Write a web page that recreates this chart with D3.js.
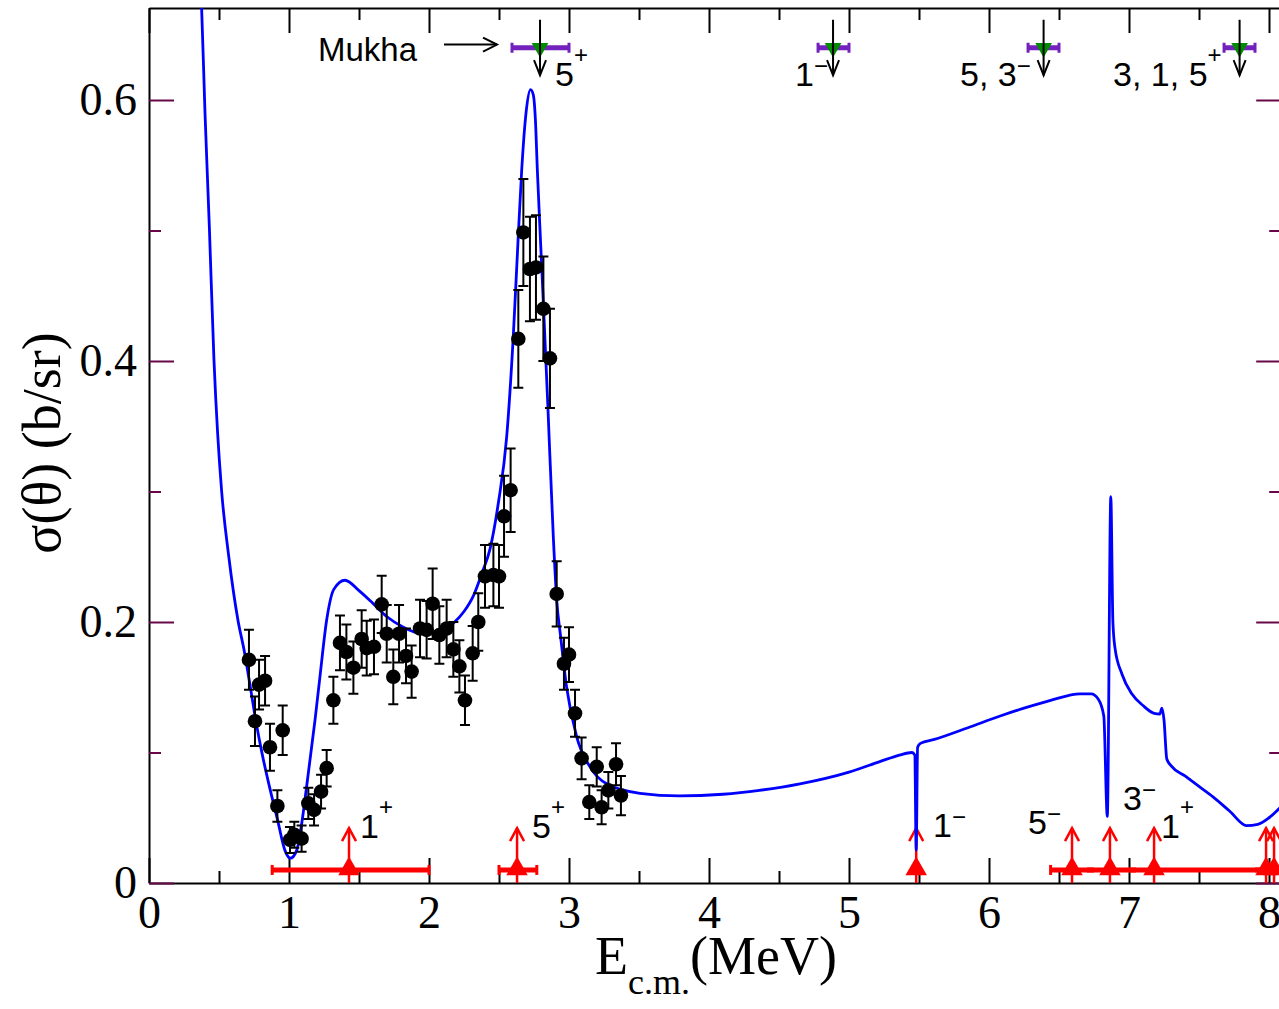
<!DOCTYPE html>
<html>
<head>
<meta charset="utf-8">
<script src="https://cdn.jsdelivr.net/npm/d3@7"></script>
<style>
  body { margin: 0; background: #fff; }
  .tick text { font-family: "Liberation Serif", "Times New Roman", serif; }
</style>
</head>
<body>
<div id="chart"></div>
<script>
// measured points (E c.m. in MeV, cross section in b/sr, error)
const expE = [0.714, 0.757, 0.786, 0.829, 0.864, 0.917, 0.955, 1.007, 1.038, 1.09,
  1.138, 1.179, 1.229, 1.269, 1.317, 1.364, 1.41, 1.46, 1.519, 1.555,
  1.607, 1.662, 1.698, 1.745, 1.786, 1.836, 1.876, 1.936, 1.983, 2.026,
  2.074, 2.126, 2.174, 2.217, 2.257, 2.312, 2.352, 2.40, 2.46, 2.50,
  2.536, 2.583, 2.638, 2.674, 2.721, 2.764, 2.817, 2.864, 2.912, 2.964,
  3.0, 3.043, 3.09, 3.145, 3.198, 3.233, 3.281, 3.336, 3.371];
const expS = [0.171, 0.124, 0.152, 0.155, 0.104, 0.059, 0.117, 0.033, 0.037, 0.034,
  0.061, 0.056, 0.070, 0.088, 0.140, 0.184, 0.177, 0.165, 0.187, 0.180,
  0.181, 0.2135, 0.191, 0.158, 0.191, 0.174, 0.162, 0.195, 0.194, 0.214,
  0.190, 0.195, 0.179, 0.166, 0.140, 0.176, 0.200, 0.235, 0.236, 0.235,
  0.281, 0.301, 0.417, 0.4985, 0.4705, 0.4717, 0.440, 0.402, 0.2215, 0.168,
  0.175, 0.130, 0.0955, 0.062, 0.089, 0.058, 0.071, 0.091, 0.067];
const expErr = [0.023, 0.019, 0.019, 0.019, 0.018, 0.012, 0.019, 0.010, 0.010, 0.010,
  0.012, 0.012, 0.013, 0.014, 0.018, 0.021, 0.021, 0.020, 0.022, 0.021,
  0.021, 0.022, 0.022, 0.021, 0.022, 0.021, 0.020, 0.022, 0.022, 0.027,
  0.022, 0.022, 0.021, 0.020, 0.019, 0.021, 0.022, 0.024, 0.024, 0.024,
  0.031, 0.032, 0.0375, 0.041, 0.040, 0.040, 0.040, 0.038, 0.025, 0.020,
  0.021, 0.018, 0.016, 0.013, 0.015, 0.013, 0.014, 0.016, 0.015];

// calculated curve
const fitE = [0.35, 0.376, 0.40, 0.431, 0.464, 0.49, 0.519, 0.57, 0.636, 0.68,
  0.721, 0.762, 0.81, 0.86, 0.919, 0.971, 1.01, 1.055, 1.09, 1.126,
  1.186, 1.221, 1.269, 1.32, 1.40, 1.50, 1.602, 1.70, 1.817, 1.91,
  2.007, 2.10, 2.174, 2.25, 2.317, 2.38, 2.436, 2.495, 2.555, 2.602,
  2.635, 2.662, 2.695, 2.725, 2.745, 2.76, 2.774, 2.80, 2.817, 2.848,
  2.888, 2.912, 2.94, 2.983, 3.055, 3.15, 3.269, 3.507, 3.79, 4.10,
  4.36, 4.65, 5.0, 5.22, 5.36, 5.45, 5.47, 5.48, 5.49, 5.51,
  5.61, 5.85, 6.08, 6.25, 6.44, 6.65, 6.73, 6.78, 6.82, 6.845,
  6.87, 6.885, 6.90, 6.95, 7.02, 7.10, 7.18, 7.22, 7.235, 7.25,
  7.27, 7.30, 7.40, 7.50, 7.60, 7.72, 7.84, 7.92, 8.0, 8.10];
const fitS = [0.72, 0.670, 0.590, 0.503, 0.401, 0.345, 0.300, 0.250, 0.201, 0.178,
  0.152, 0.125, 0.098, 0.074, 0.048, 0.025, 0.019, 0.025, 0.045, 0.074,
  0.125, 0.158, 0.2015, 0.225, 0.232, 0.224, 0.214, 0.204, 0.196, 0.192,
  0.191, 0.193, 0.199, 0.208, 0.220, 0.238, 0.256, 0.291, 0.342, 0.419,
  0.49, 0.546, 0.592, 0.608, 0.604, 0.585, 0.546, 0.484, 0.444, 0.368,
  0.265, 0.217, 0.189, 0.150, 0.112, 0.089, 0.076, 0.0687, 0.0667, 0.068,
  0.071, 0.076, 0.085, 0.093, 0.098, 0.100, 0.098, 0.025, 0.104, 0.107,
  0.110, 0.119, 0.128, 0.134, 0.140, 0.145, 0.145, 0.141, 0.128, 0.051,
  0.296, 0.20, 0.18, 0.160, 0.145, 0.136, 0.130, 0.1295, 0.134, 0.125,
  0.095, 0.090, 0.082, 0.074, 0.066, 0.055, 0.044, 0.045, 0.050, 0.060];

// Mukha levels (top)
const mukhaE = [2.793, 4.886, 6.39, 7.79];
const mukhaLo = [2.593, 4.779, 6.279, 7.679];
const mukhaHi = [3.0, 5.0, 6.5, 7.9];
const mukhaS = 0.640;
const mukhaLabelE = [2.9, 4.614, 5.793, 6.886];
const mukhaLabel = ["5", "1", "5, 3", "3, 1, 5"];
const mukhaSup = ["+", "\u2212", "\u2212", "+"];

// levels (bottom, red)
const levelE = [1.4286, 2.629, 5.48, 6.593, 6.864, 7.179, 7.979, 8.036];
const levelLo = [0.88, 2.50, 5.48, 6.44, 6.70, 7.00, 7.90, 7.95];
const levelHi = [2.00, 2.77, 5.48, 6.75, 7.05, 7.95, 8.30, 8.30];
const levelS = 0.01;
const levelLabelE = [1.507, 2.736, 5.60, 6.279, 6.957, 7.229];
const levelLabelS = [0.0345, 0.0345, 0.0352, 0.0375, 0.0559, 0.0345];
const levelLabel = ["1", "5", "1", "5", "3", "1"];
const levelSup = ["+", "+", "\u2212", "\u2212", "\u2212", "+"];

const xMajor = [0, 1, 2, 3, 4, 5, 6, 7, 8];
const xMinor = [0.5, 1.5, 2.5, 3.5, 4.5, 5.5, 6.5, 7.5];
const yMajor = [0, 0.2, 0.4, 0.6];
const yMinor = [0.1, 0.3, 0.5];

const width = 1279, height = 1009;
const maroon = "#670748";
const sans = "'Liberation Sans', Arial, sans-serif";
const serif = "'Liberation Serif', 'Times New Roman', serif";

const x = d3.scaleLinear().domain([0, 8.08]).range([149, 1280.2]);
const y = d3.scaleLinear().domain([0, 0.6705]).range([883, 8]);

const svg = d3.select("#chart").append("svg")
  .attr("width", width).attr("height", height);

svg.append("clipPath").attr("id", "plot-clip")
  .append("rect")
  .attr("x", x(0)).attr("y", y(0.6705))
  .attr("width", x(8.08) - x(0)).attr("height", y(0) - y(0.6705));

// axes
function styleAxis(g, color) {
  g.select(".domain").attr("stroke", "#000").attr("stroke-width", 2);
  g.selectAll(".tick line").attr("stroke", color).attr("stroke-width", 2);
  g.selectAll(".tick text").attr("fill", "#000");
}

svg.append("g").attr("transform", "translate(0," + y(0) + ")")
  .call(d3.axisBottom(x).tickValues(xMajor).tickSize(-25).tickSizeOuter(0).tickPadding(12)
    .tickFormat(d3.format("d")))
  .call(g => styleAxis(g, "#000"))
  .call(g => g.selectAll(".tick text").attr("font-size", 46).attr("font-family", serif));
svg.append("g").attr("transform", "translate(0," + y(0) + ")")
  .call(d3.axisBottom(x).tickValues(xMinor).tickSize(-12).tickFormat(""))
  .call(g => g.select(".domain").remove())
  .call(g => styleAxis(g, "#000"));

svg.append("g").attr("transform", "translate(0," + y(0.6705) + ")")
  .call(d3.axisTop(x).tickValues(xMajor).tickSize(-25).tickSizeOuter(0).tickFormat(""))
  .call(g => styleAxis(g, "#000"));
svg.append("g").attr("transform", "translate(0," + y(0.6705) + ")")
  .call(d3.axisTop(x).tickValues(xMinor).tickSize(-12).tickFormat(""))
  .call(g => g.select(".domain").remove())
  .call(g => styleAxis(g, "#000"));

svg.append("g").attr("transform", "translate(" + x(0) + ",0)")
  .call(d3.axisLeft(y).tickValues(yMajor).tickSize(-25).tickSizeOuter(0).tickPadding(12)
    .tickFormat(d => d === 0 ? "0" : d3.format(".1f")(d)))
  .call(g => styleAxis(g, maroon))
  .call(g => g.selectAll(".tick text").attr("font-size", 46).attr("font-family", serif));
svg.append("g").attr("transform", "translate(" + x(0) + ",0)")
  .call(d3.axisLeft(y).tickValues(yMinor).tickSize(-12).tickFormat(""))
  .call(g => g.select(".domain").remove())
  .call(g => styleAxis(g, maroon));

svg.append("g").attr("transform", "translate(" + x(8.08) + ",0)")
  .call(d3.axisRight(y).tickValues(yMajor).tickSize(-24).tickSizeOuter(0).tickFormat(""))
  .call(g => styleAxis(g, maroon));
svg.append("g").attr("transform", "translate(" + x(8.08) + ",0)")
  .call(d3.axisRight(y).tickValues(yMinor).tickSize(-11).tickFormat(""))
  .call(g => g.select(".domain").remove())
  .call(g => styleAxis(g, maroon));

// axis titles
const xt = svg.append("text")
  .attr("x", 716).attr("y", 974)
  .attr("text-anchor", "middle")
  .attr("font-family", serif).attr("font-size", 54);
xt.append("tspan").text("E");
xt.append("tspan").attr("font-size", 36).attr("dy", 20).text("c.m.");
xt.append("tspan").attr("dy", -20).text("(MeV)");

svg.append("text")
  .attr("transform", "translate(60,443) rotate(-90)")
  .attr("text-anchor", "middle")
  .attr("font-family", serif).attr("font-size", 54)
  .text("\u03c3(\u03b8) (b/sr)");

const plot = svg.append("g").attr("clip-path", "url(#plot-clip)");

// red level bars, triangles, arrows
const red = "#ff0000";
levelE.forEach((e, i) => {
  if (levelHi[i] > levelLo[i]) {
    plot.append("line")
      .attr("x1", x(levelLo[i])).attr("x2", x(levelHi[i]))
      .attr("y1", y(levelS)).attr("y2", y(levelS))
      .attr("stroke", red).attr("stroke-width", 5);
    [levelLo[i], levelHi[i]].forEach(v => {
      // cap only where no other bar covers this end
      const covered = levelE.some((_, j) => j !== i && levelLo[j] < v && v < levelHi[j]);
      if (covered) return;
      plot.append("line")
        .attr("x1", x(v)).attr("x2", x(v))
        .attr("y1", y(levelS) - 5).attr("y2", y(levelS) + 5)
        .attr("stroke", red).attr("stroke-width", 3);
    });
  }
});
levelE.forEach(e => {
  plot.append("line")
    .attr("x1", x(e)).attr("x2", x(e))
    .attr("y1", y(0)).attr("y2", y(0.042))
    .attr("stroke", red).attr("stroke-width", 2.5);
  plot.append("path")
    .attr("d", "M" + (x(e) - 7) + "," + (y(0.042) + 13) + "L" + x(e) + "," + y(0.042) +
      "L" + (x(e) + 7) + "," + (y(0.042) + 13))
    .attr("fill", "none").attr("stroke", red).attr("stroke-width", 2.5);
  plot.append("path")
    .attr("transform", "translate(" + x(e) + "," + (y(levelS) - 1) + ")")
    .attr("d", d3.symbol(d3.symbolTriangle, 200)())
    .attr("fill", red);
});

// calculation
const line = d3.line()
  .x((d, i) => x(fitE[i]))
  .y(d => y(d))
  .curve(d3.curveMonotoneX);
plot.append("path")
  .attr("d", line(fitS))
  .attr("fill", "none").attr("stroke", "#0000ff").attr("stroke-width", 2.8);

// data with error bars
expE.forEach((e, i) => {
  const cx = x(e);
  const top = y(expS[i] + expErr[i]), bot = y(expS[i] - expErr[i]);
  plot.append("path")
    .attr("d", "M" + cx + "," + top + "V" + bot +
      "M" + (cx - 5) + "," + top + "H" + (cx + 5) +
      "M" + (cx - 5) + "," + bot + "H" + (cx + 5))
    .attr("fill", "none").attr("stroke", "#000").attr("stroke-width", 2);
});
plot.selectAll("circle.pt")
  .data(expS)
  .enter().append("circle")
  .attr("class", "pt")
  .attr("cx", (d, i) => x(expE[i]))
  .attr("cy", d => y(d))
  .attr("r", 7.3)
  .attr("fill", "#000");

// Mukha levels at the top
mukhaE.forEach((e, i) => {
  plot.append("line")
    .attr("x1", x(mukhaLo[i])).attr("x2", x(mukhaHi[i]))
    .attr("y1", y(mukhaS)).attr("y2", y(mukhaS))
    .attr("stroke", "#7221bc").attr("stroke-width", 5);
  [mukhaLo[i], mukhaHi[i]].forEach(v => {
    plot.append("line")
      .attr("x1", x(v)).attr("x2", x(v))
      .attr("y1", y(mukhaS) - 5).attr("y2", y(mukhaS) + 5)
      .attr("stroke", "#7221bc").attr("stroke-width", 3);
  });
  plot.append("path")
    .attr("transform", "translate(" + x(e) + "," + y(mukhaS) + ") rotate(180)")
    .attr("d", d3.symbol(d3.symbolTriangle, 120)())
    .attr("fill", "#008b00");
  plot.append("line")
    .attr("x1", x(e)).attr("x2", x(e))
    .attr("y1", y(0.6615)).attr("y2", y(0.619))
    .attr("stroke", "#000").attr("stroke-width", 2);
  plot.append("path")
    .attr("d", "M" + (x(e) - 6) + "," + (y(0.619) - 15) + "L" + x(e) + "," + y(0.619) +
      "L" + (x(e) + 6) + "," + (y(0.619) - 15))
    .attr("fill", "none").attr("stroke", "#000").attr("stroke-width", 2);
});

function supLabel(g, px, py, base, sup) {
  const t = g.append("text")
    .attr("x", px).attr("y", py)
    .attr("font-family", sans).attr("font-size", 34).attr("fill", "#000");
  t.append("tspan").text(base);
  t.append("tspan").attr("font-size", 24)
    .attr("dy", sup === "+" ? -23 : -12).text(sup);
}

mukhaLabel.forEach((s, i) => supLabel(svg, x(mukhaLabelE[i]), y(0.6107), s, mukhaSup[i]));
levelLabel.forEach((s, i) => supLabel(svg, x(levelLabelE[i]), y(levelLabelS[i]), s, levelSup[i]));

// "Mukha" pointer
svg.append("text")
  .attr("x", x(1.207)).attr("y", y(0.630))
  .attr("font-family", sans).attr("font-size", 33)
  .text("Mukha");
svg.append("line")
  .attr("x1", x(2.107)).attr("x2", x(2.486))
  .attr("y1", y(0.6425)).attr("y2", y(0.6425))
  .attr("stroke", "#000").attr("stroke-width", 2);
svg.append("path")
  .attr("d", "M" + (x(2.486) - 14) + "," + (y(0.6425) - 7) + "L" + x(2.486) + "," + y(0.6425) +
    "L" + (x(2.486) - 14) + "," + (y(0.6425) + 7))
  .attr("fill", "none").attr("stroke", "#000").attr("stroke-width", 2);
</script>
</body>
</html>
